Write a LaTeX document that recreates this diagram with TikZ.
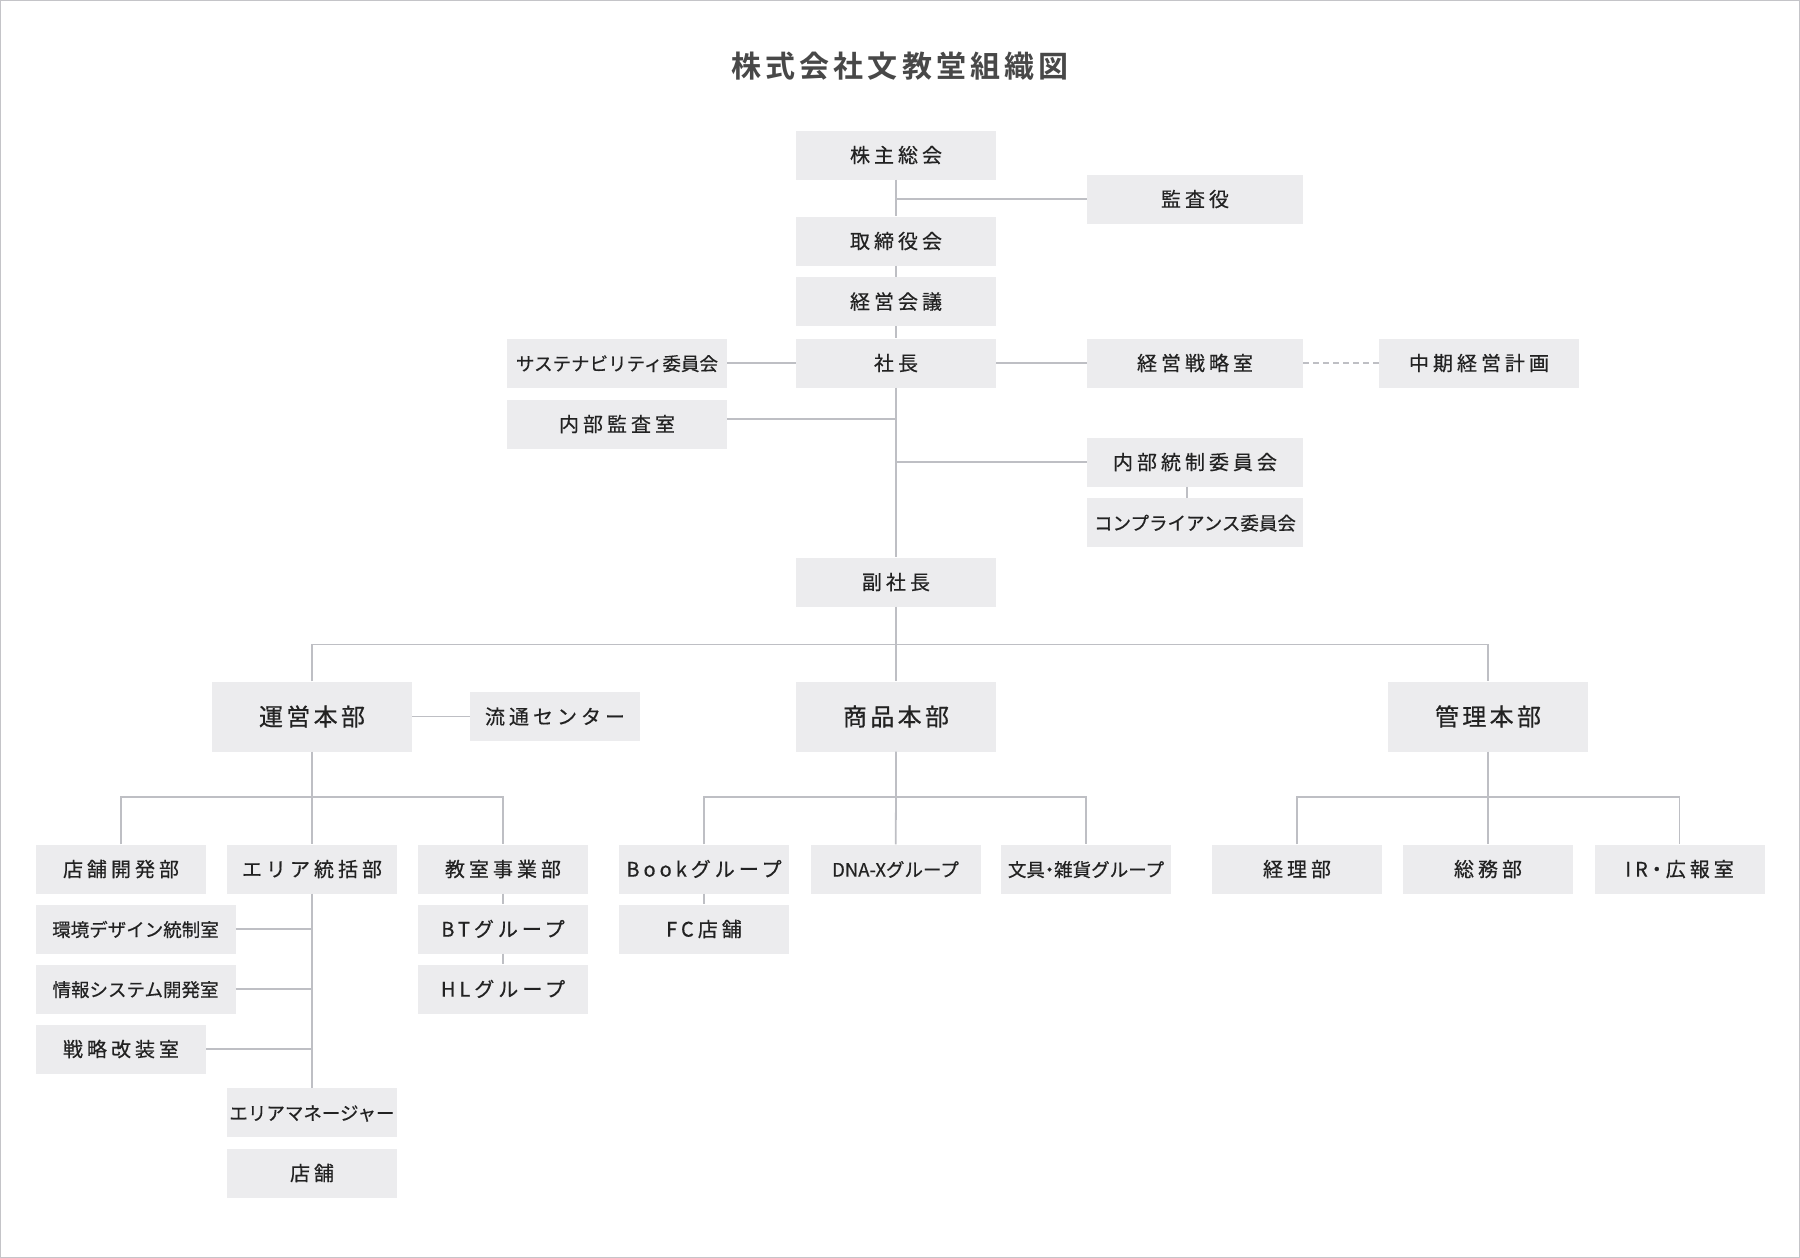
\documentclass[tikz,border=0pt]{standalone}
\usepackage{fontspec}
\setmainfont{Noto Sans CJK JP}[FakeBold=0.5]
\newfontfamily\jpsp[LetterSpace=20,FakeBold=0.5]{Noto Sans CJK JP}
\newfontfamily\jppalt[LetterSpace=20,FakeBold=0.5,RawFeature=+palt]{Noto Sans CJK JP}
\newfontfamily\jphead[LetterSpace=14,FakeBold=0.5]{Noto Sans CJK JP}
\newfontfamily\jptitle[LetterSpace=14]{Noto Sans CJK JP Bold}
\definecolor{boxgray}{RGB}{236,236,238}
\definecolor{linegray}{RGB}{190,191,196}
\definecolor{inkgray}{RGB}{34,34,34}
\definecolor{titlegray}{RGB}{72,72,72}
\definecolor{framegray}{RGB}{196,196,200}
\tikzset{
  unit/.style={fill=boxgray, text=inkgray, inner sep=0pt, minimum width=#1, minimum height=49pt,
    text height=17.6pt, text depth=2.4pt, font=\jpsp\fontsize{20}{24}\selectfont},
  unit/.default=170pt,
  longlabel/.style={font=\fontsize{18.5}{22}\selectfont},
  division/.style={unit=200pt, minimum height=70pt, text height=21.1pt, text depth=2.9pt,
    font=\jphead\fontsize{24}{28}\selectfont},
  conn/.style={draw=linegray, line width=1.8pt},
}

\begin{document}
\begin{tikzpicture}[x=1pt,y=-1pt]
            \useasboundingbox (0,0) rectangle (1800,1258);
            \draw[framegray, line width=1.2pt] (0.6,0.6) rectangle (1799.4,1257.4);
            \node[text=titlegray, inner sep=0pt, font=\jptitle\fontsize{30}{34}\selectfont] (title) at (900,66) {株式会社文教堂組織図};

            \node[unit=200pt] (kabunushi) at (896,155) {株主総会};
            \node[unit=216pt] (kansa) at (1195,199) {監査役};
            \node[unit=200pt] (torishimari) at (896,241) {取締役会};
            \node[unit=200pt] (kaigi) at (896,301.5) {経営会議};
            \node[unit=200pt] (shacho) at (896,363) {社長};
            \node[unit=220pt, longlabel] (sustain) at (617,363) {サステナビリティ委員会};
            \node[unit=216pt] (senryaku) at (1195,363) {経営戦略室};
            \node[unit=200pt] (chuki) at (1479,363) {中期経営計画};
            \node[unit=220pt] (naibukansa) at (617,424) {内部監査室};
            \node[unit=216pt] (tosei) at (1195,462) {内部統制委員会};
            \node[unit=216pt, longlabel] (compliance) at (1195,522.5) {コンプライアンス委員会};
            \node[unit=200pt] (fuku) at (896,582) {副社長};

            \node[division] (unei) at (312,716.5) {運営本部};
            \node[unit] (ryutsu) at (555,716.5) {流通センター};
            \node[division] (shohin) at (896,716.5) {商品本部};
            \node[division] (kanri) at (1488,716.5) {管理本部};

            \node[unit] (tenpokaihatsu) at (121,869) {店舗開発部};
            \node[unit] (area) at (312,869) {エリア統括部};
            \node[unit] (kyoshitsu) at (503,869) {教室事業部};
            \node[unit] (book) at (704,869) {Bookグループ};
            \node[unit, longlabel] (dnax) at (895.5,869) {DNA-Xグループ};
            \node[unit, longlabel] (bungu) at (1086,869) {文具{\jppalt・}雑貨グループ};
            \node[unit] (keiri) at (1297,869) {経理部};
            \node[unit] (somu) at (1488,869) {総務部};
            \node[unit, font=\jppalt\fontsize{20}{24}\selectfont] (ir) at (1679.5,869) {IR・広報室};

            \node[unit=200pt, longlabel] (kankyo) at (135.5,929) {環境デザイン統制室};
            \node[unit] (bt) at (503,929) {BTグループ};
            \node[unit] (fc) at (704,929) {FC店舗};
            \node[unit=200pt, longlabel] (joho) at (135.5,989) {情報システム開発室};
            \node[unit] (hl) at (503,989) {HLグループ};
            \node[unit] (kaiso) at (121,1049) {戦略改装室};
            \node[unit, longlabel] (manager) at (312,1112.5) {エリアマネージャー};
            \node[unit] (tenpo) at (312,1173) {店舗};

            \coordinate (bus) at (896,644.5);
            \coordinate (ubus) at (312,797);
            \coordinate (sbus) at (896,797);
            \coordinate (kbus) at (1488,797);

            \draw[conn] (kabunushi) -- (torishimari) -- (kaigi) -- (shacho) -- (fuku);
            \draw[conn] (kansa.west) -- (kansa.west -| kabunushi);
            \draw[conn] (sustain) -- (shacho) -- (senryaku);
            \draw[conn, dash pattern=on 6pt off 4pt, line width=1.5pt] (senryaku) -- (chuki);
            \draw[conn] ([yshift=5pt]naibukansa.east) -- ([yshift=5pt]naibukansa.east -| shacho);
            \draw[conn] (tosei.west) -- (tosei.west -| shacho);
            \draw[conn] ([xshift=-8pt]tosei.south) -- ([xshift=-8pt]compliance.north);

            \draw[conn] (fuku) -- (bus) -- (shohin);
            \draw[conn] (unei.north) |- (bus) -| (kanri.north);
            \draw[conn] (unei) -- (ryutsu);

            \draw[conn] (unei) -- (ubus) -- (area);
            \draw[conn] (tenpokaihatsu.north) |- (ubus) -| (kyoshitsu.north);
            \draw[conn] (shohin) -- (sbus) -- (dnax);
            \draw[conn] (book.north) |- (sbus) -| (bungu.north);
            \draw[conn] (kanri) -- (kbus) -- (somu);
            \draw[conn] (keiri.north) |- (kbus) -| (ir.north);

            \draw[conn] (kyoshitsu) -- (bt) -- (hl);
            \draw[conn] (book) -- (fc);
            \draw[conn] (area) -- (manager);
            \draw[conn] (kankyo.east) -- (kankyo.east -| area);
            \draw[conn] (joho.east) -- (joho.east -| area);
            \draw[conn] (kaiso.east) -- (kaiso.east -| area);
        \end{tikzpicture}
\end{document}
